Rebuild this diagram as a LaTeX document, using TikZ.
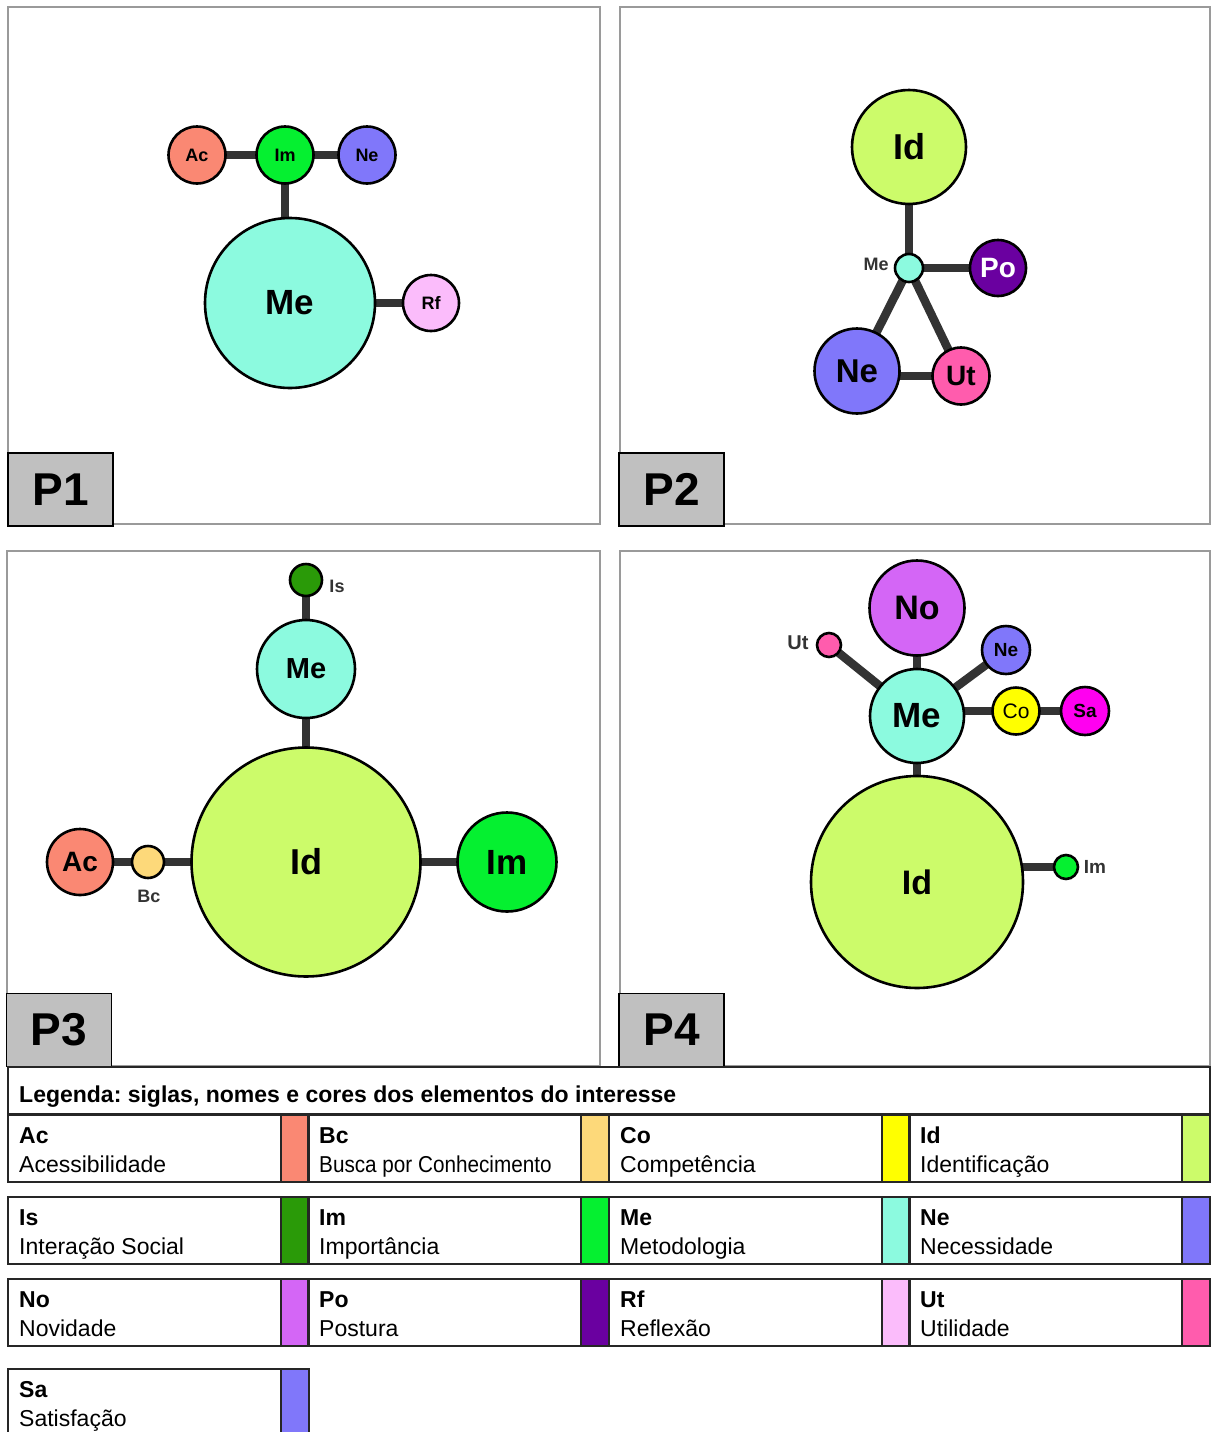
\documentclass[tikz,border=0pt]{standalone}
\usepackage{fontspec}
\setmainfont{Liberation Sans}
\usetikzlibrary{backgrounds}
\newcommand\myfs[1]{\fontsize{#1}{#1}\selectfont}
\definecolor{cAc}{HTML}{FA8873}
\definecolor{cBc}{HTML}{FDD97A}
\definecolor{cCo}{HTML}{FFFF00}
\definecolor{cId}{HTML}{CCFB6A}
\definecolor{cIs}{HTML}{2A9A08}
\definecolor{cIm}{HTML}{05F030}
\definecolor{cMe}{HTML}{8CFADF}
\definecolor{cNe}{HTML}{8077FA}
\definecolor{cNo}{HTML}{D466F6}
\definecolor{cPo}{HTML}{6A00A0}
\definecolor{cRf}{HTML}{FBBCFB}
\definecolor{cUt}{HTML}{FF5CAD}
\definecolor{cSa}{HTML}{FF00F0}
\definecolor{cSaLeg}{HTML}{8077FA}
\definecolor{linkgray}{HTML}{333333}
\definecolor{labgray}{HTML}{C0C0C0}
\definecolor{framegray}{HTML}{9A9A9A}
\tikzset{
  bub/.style={circle, draw=black, line width=2.6pt, inner sep=0pt},
  lnk/.style={line width=8.5pt, draw=linkgray},
  panelframe/.style={draw=framegray, line width=1.3pt},
  plabel/.style={draw=black, fill=labgray, line width=1.5pt, inner sep=0pt,
     minimum width=105pt, minimum height=73pt, font=\myfs{46}\bfseries},
  smalllab/.style={font=\myfs{18}\bfseries, text=linkgray, inner sep=0pt},
  cellb/.style={draw=black!85, line width=2pt}
}
\newcommand\legcell[6]{%
  \draw[cellb] (#1,#2) rectangle ++(273,67);
  \draw[cellb, fill=#5] (#1+273,#2) rectangle ++(28,67);
  \node[anchor=base west, inner sep=0pt, font=\myfs{23}\bfseries] (leg#6a) at (#1+11,#2+28) {#3};
  \node[anchor=base west, inner sep=0pt, font=\myfs{23}] (leg#6b) at (#1+11,#2+57) {#4};}
\begin{document}
\frenchspacing
\begin{tikzpicture}[x=1pt,y=-1pt]
\useasboundingbox (0,0) rectangle (1211,1432);

% ---------- frames ----------
\draw[panelframe] (8,7) rectangle (600,524);
\draw[panelframe] (620,7) rectangle (1210,524);
\draw[panelframe] (7,551) rectangle (600,1066);
\draw[panelframe] (620,551) rectangle (1210,1066);

% ---------- P1 ----------
\node[bub, fill=cAc, minimum size=57pt, font=\myfs{18}\bfseries] (p1Ac) at (197,155) {Ac};
\node[bub, fill=cIm, minimum size=57pt, font=\myfs{18}\bfseries] (p1Im) at (285,155) {Im};
\node[bub, fill=cNe, minimum size=57pt, font=\myfs{18}\bfseries] (p1Ne) at (367,155) {Ne};
\node[bub, fill=cMe, minimum size=170pt, font=\myfs{35}\bfseries] (p1Me) at (290,303) {Me};
\node[bub, fill=cRf, minimum size=56pt, font=\myfs{18}\bfseries] (p1Rf) at (431,303) {Rf};
\begin{scope}[on background layer]
\draw[lnk] (p1Ac.center) -- (p1Im.center) -- (p1Ne.center);
\draw[lnk] (p1Im.center) -- (p1Im.center |- p1Me.center);
\draw[lnk] (p1Me.center) -- (p1Rf.center);
\end{scope}
\node[plabel] (lP1) at (60.5,489.5) {P1};

% ---------- P2 ----------
\node[bub, fill=cId, minimum size=114pt, font=\myfs{36}\bfseries] (p2Id) at (909,147) {Id};
\node[bub, fill=cMe, minimum size=28pt] (p2Me) at (909,268) {};
\node[smalllab] (p2MeL) at (876,264) {Me};
\node[bub, fill=cPo, minimum size=56pt, font=\myfs{28}\bfseries, text=white] (p2Po) at (998,268) {Po};
\node[bub, fill=cNe, minimum size=85pt, font=\myfs{33}\bfseries] (p2Ne) at (857,371) {Ne};
\node[bub, fill=cUt, minimum size=57pt, font=\myfs{28}\bfseries] (p2Ut) at (961,376) {Ut};
\begin{scope}[on background layer]
\draw[lnk] (p2Id.center) -- (p2Me.center);
\draw[lnk] (p2Me.center) -- (p2Po.center);
\draw[lnk] (p2Me.center) -- (p2Ne.center);
\draw[lnk] (p2Me.center) -- (p2Ut.center);
\draw[lnk] (p2Ut.center -| p2Ne.center) -- (p2Ut.center);
\end{scope}
\node[plabel] (lP2) at (671.5,489.5) {P2};

% ---------- P3 ----------
\node[bub, fill=cIs, minimum size=32pt] (p3Is) at (306,580) {};
\node[smalllab] (p3IsL) at (337,586) {Is};
\node[bub, fill=cMe, minimum size=98pt, font=\myfs{29}\bfseries] (p3Me) at (306,669) {Me};
\node[bub, fill=cId, minimum size=229pt, font=\myfs{36}\bfseries] (p3Id) at (306,862) {Id};
\node[bub, fill=cAc, minimum size=66pt, font=\myfs{28}\bfseries] (p3Ac) at (80,862) {Ac};
\node[bub, fill=cBc, minimum size=32pt] (p3Bc) at (148,862) {};
\node[smalllab] (p3BcL) at (149,896) {Bc};
\node[bub, fill=cIm, minimum size=99pt, font=\myfs{35}\bfseries] (p3Im) at (507,862) {Im};
\begin{scope}[on background layer]
\draw[lnk] (p3Is.center) -- (p3Me.center) -- (p3Id.center);
\draw[lnk] (p3Ac.center) -- (p3Bc.center) -- (p3Id.center);
\draw[lnk] (p3Id.center) -- (p3Im.center);
\end{scope}
\node[plabel] (lP3) at (59,1030) {P3};

% ---------- P4 ----------
\node[bub, fill=cNo, minimum size=95pt, font=\myfs{34}\bfseries] (p4No) at (917,608) {No};
\node[bub, fill=cUt, minimum size=24pt] (p4Ut) at (829,645) {};
\node[smalllab, font=\myfs{20}\bfseries] (p4UtL) at (798,643) {Ut};
\node[bub, fill=cNe, minimum size=48pt, font=\myfs{19}\bfseries] (p4Ne) at (1006,650) {Ne};
\node[bub, fill=cMe, minimum size=94pt, font=\myfs{35}\bfseries] (p4Me) at (917,716) {Me};
\node[bub, fill=cCo, minimum size=47pt, font=\myfs{21}] (p4Co) at (1016,711) {Co};
\node[bub, fill=cSa, minimum size=48pt, font=\myfs{19}\bfseries] (p4Sa) at (1085,711) {Sa};
\node[bub, fill=cId, minimum size=212pt, font=\myfs{34}\bfseries] (p4Id) at (917,882) {Id};
\node[bub, fill=cIm, minimum size=24pt] (p4Im) at (1066,867) {};
\node[smalllab, font=\myfs{19}\bfseries] (p4ImL) at (1095,867) {Im};
\begin{scope}[on background layer]
\draw[lnk] (p4No.center) -- (p4Me.center) -- (p4Id.center);
\draw[lnk] (p4Ut.center) -- (p4Me.center);
\draw[lnk] (p4Ne.center) -- (p4Me.center);
\draw[lnk] (p4Co.center -| p4Me.center) -- (p4Co.center) -- (p4Sa.center);
\draw[lnk] (p4Im.center -| p4Id.center) -- (p4Im.center);
\end{scope}
\node[plabel] (lP4) at (671.5,1030) {P4};

% ---------- legend ----------
\draw[cellb] (8,1067) rectangle (1210,1114);
\node[anchor=base west, inner sep=0pt, font=\myfs{23}\bfseries] (legtitle) at (19,1102)
  {Legenda: siglas, nomes e cores dos elementos do interesse};

\legcell{8}{1115}{Ac}{Acessibilidade}{cAc}{Ac}
\legcell{308}{1115}{Bc}{\scalebox{0.9}[1]{Busca por Conhecimento}}{cBc}{Bc}
\legcell{609}{1115}{Co}{Competência}{cCo}{Co}
\legcell{909}{1115}{Id}{Identificação}{cId}{Id}

\legcell{8}{1197}{Is}{Interação Social}{cIs}{Is}
\legcell{308}{1197}{Im}{Importância}{cIm}{Im}
\legcell{609}{1197}{Me}{Metodologia}{cMe}{Me}
\legcell{909}{1197}{Ne}{Necessidade}{cNe}{Ne}

\legcell{8}{1279}{No}{Novidade}{cNo}{No}
\legcell{308}{1279}{Po}{Postura}{cPo}{Po}
\legcell{609}{1279}{Rf}{Reflexão}{cRf}{Rf}
\legcell{909}{1279}{Ut}{Utilidade}{cUt}{Ut}

\legcell{8}{1369}{Sa}{Satisfação}{cSaLeg}{Sa}
\end{tikzpicture}
\end{document}
